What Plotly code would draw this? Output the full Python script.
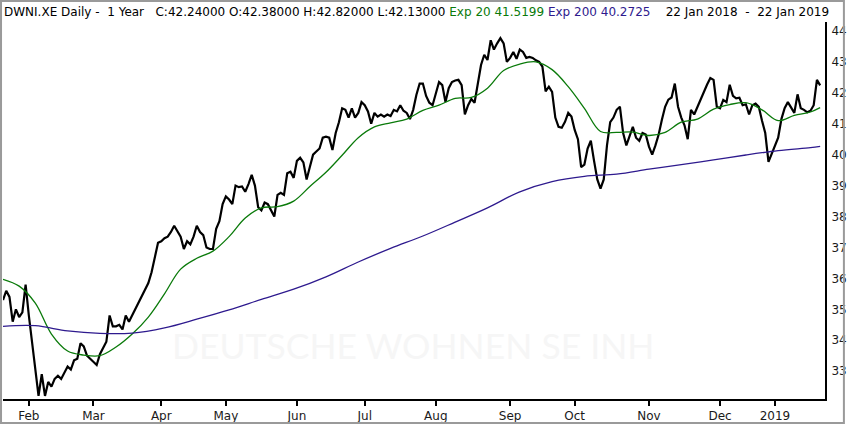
import pandas as pd
import plotly.graph_objects as go

# trading days (Xetra) from 22 Jan 2018 to 22 Jan 2019
start_date = "2018-01-22"
end_date = "2019-01-22"
holidays = ["2018-03-30", "2018-04-02", "2018-05-01", "2018-12-24",
            "2018-12-25", "2018-12-26", "2018-12-31", "2019-01-01"]

# daily closes
close = [
    35.3, 35.6, 35.4, 34.6, 35.0, 34.75, 34.9, 35.8, 34.8, 33.9,
    33.0, 32.2, 32.9, 32.2, 32.65, 32.5, 32.75, 32.85, 32.75, 32.95,
    33.15, 33.05, 33.35, 33.4, 33.9, 33.8, 33.5, 33.4, 33.3, 33.2,
    33.55, 33.75, 33.95, 34.8, 34.45, 34.45, 34.5, 34.35, 34.8, 34.6,
    34.8, 35.0, 35.2, 35.4, 35.65, 35.85, 36.2, 36.65, 37.15, 37.2,
    37.3, 37.35, 37.5, 37.7, 37.5, 37.35, 36.95, 37.2, 37.1, 37.35,
    37.7, 37.5, 37.4, 37.0, 36.95, 36.95, 37.6, 37.85, 38.4, 38.65,
    38.55, 38.4, 39.0, 38.95, 38.97, 38.8, 39.05, 39.35, 39.0, 38.3,
    38.2, 38.45, 38.4, 38.2, 38.0, 38.7, 38.77, 38.7, 39.4, 39.45,
    39.25, 39.8, 39.9, 39.75, 39.2, 39.6, 40.0, 40.1, 40.2, 40.55,
    40.58, 40.55, 40.15, 40.7, 41.05, 41.5, 41.45, 41.2, 41.5, 41.2,
    41.35, 41.7, 41.6, 41.4, 41.0, 41.35, 41.23, 41.3, 41.23, 41.3,
    41.25, 41.45, 41.4, 41.6, 41.42, 41.35, 41.15, 41.45, 41.94, 42.3,
    42.3, 41.9, 41.68, 41.6, 42.0, 42.35, 42.25, 41.7, 42.15, 42.35,
    42.4, 42.42, 42.25, 41.3, 41.6, 41.8, 41.68, 42.35, 42.9, 43.23,
    43.06, 43.7, 43.4, 43.6, 43.77, 43.6, 43.0, 43.13, 43.32, 43.1,
    43.4, 43.32, 43.13, 43.16, 43.13, 43.05, 43.0, 42.85, 42.05, 42.2,
    42.03, 41.2, 40.9, 40.87, 41.06, 41.35, 41.23, 40.8, 40.5, 39.6,
    39.68, 40.2, 40.45, 39.8, 39.2, 38.9, 39.2, 40.3, 41.05, 41.2,
    41.45, 41.55, 40.7, 40.3, 40.6, 40.9, 40.55, 40.45, 40.7, 40.65,
    40.26, 40.0, 40.3, 40.65, 41.13, 41.55, 41.78, 41.85, 42.3, 41.55,
    41.2, 40.95, 40.5, 41.45, 41.3, 41.55, 41.75, 42.0, 42.27, 42.48,
    42.42, 41.55, 41.5, 41.77, 41.7, 42.26, 41.9, 41.82, 41.84, 41.6,
    41.63, 41.3, 41.6, 41.65, 41.55, 41.1, 40.7, 39.77, 40.05, 40.3,
    40.55, 41.15, 41.5, 41.7, 41.5, 41.35, 41.95, 41.5, 41.45, 41.37,
    41.42, 41.6, 42.42, 42.24,
]

# Exp 20, read every 5 trading days (last point = last day)
ema20_idx = list(range(0, 251, 5)) + [253]
ema20 = [
    35.97, 35.75, 35.2, 34.2, 33.65, 33.52, 33.5, 33.78, 34.2, 34.75,
    35.5, 36.3, 36.65, 36.88, 37.35, 37.95, 38.28, 38.32, 38.5, 38.97,
    39.43, 39.98, 40.55, 40.9, 41.03, 41.15, 41.43, 41.6, 41.82, 41.85,
    42.15, 42.72, 42.93, 43.0, 42.75, 42.2, 41.5, 40.75, 40.72, 40.73,
    40.62, 40.72, 41.05, 41.15, 41.47, 41.62, 41.68, 41.45, 41.1, 41.27,
    41.38, 41.52,
]

# Exp 200, read every 10 trading days
ema200_idx = list(range(0, 251, 10)) + [253]
ema200 = [
    34.45, 34.47, 34.3, 34.22, 34.23, 34.4, 34.68, 34.98, 35.32, 35.65,
    36.05, 36.53, 36.97, 37.37, 37.82, 38.28, 38.8, 39.13, 39.3, 39.37,
    39.53, 39.68, 39.83, 39.99, 40.13, 40.23, 40.27,
]

month_labels = ["Feb", "Mar", "Apr", "May", "Jun", "Jul", "Aug",
                "Sep", "Oct", "Nov", "Dec", "2019"]

days = pd.bdate_range(start_date, end_date)
days = days[~days.isin(pd.to_datetime(holidays))]
dates = [d.strftime("%Y-%m-%d") for d in days]

# first trading day of each month (skip the partial January 2018)
firsts = pd.Series(dates, index=days).groupby([days.year, days.month]).first().tolist()[1:]

green = "#0a7a0a"
purple = "#2e1a8e"

fig = go.Figure()
fig.add_trace(go.Scatter(x=dates, y=close, mode="lines",
                         line=dict(color="black", width=2.2), name="DWNI.XE"))
fig.add_trace(go.Scatter(x=[dates[i] for i in ema20_idx], y=ema20, mode="lines",
                         line=dict(color=green, width=1.3, shape="spline"), name="Exp 20"))
fig.add_trace(go.Scatter(x=[dates[i] for i in ema200_idx], y=ema200, mode="lines",
                         line=dict(color=purple, width=1.3, shape="spline"), name="Exp 200"))

header = ("DWNI.XE Daily -  1 Year   C:42.24000 O:42.38000 H:42.82000 L:42.13000 "
          f"<span style='color:{green}'>Exp 20 41.5199</span> "
          f"<span style='color:{purple}'>Exp 200 40.2725</span>"
          "    22 Jan 2018  -  22 Jan 2019")

fig.add_annotation(text=header, xref="paper", yref="paper", x=-0.0012, y=1.027,
                   xanchor="left", yanchor="middle", showarrow=False,
                   font=dict(family="DejaVu Sans", size=12, color="black"))

fig.add_annotation(text="DEUTSCHE WOHNEN SE INH", xref="paper", yref="paper",
                   x=0.499, y=0.079, showarrow=False,
                   font=dict(family="Lato", size=35.5, color="#f6f6f6"))

# gray window frame
fig.add_shape(type="rect", xref="paper", yref="paper",
              x0=-0.0024, x1=1.0230, y0=-0.0635, y1=1.0555,
              line=dict(color="#9a9a9a", width=2))

fig.update_layout(
    width=850, height=426,
    margin=dict(l=3, r=21, t=22, b=26),
    paper_bgcolor="white", plot_bgcolor="white",
    showlegend=False,
    font=dict(family="DejaVu Sans", size=12, color="#1a1a1a"),
    xaxis=dict(type="category", categoryorder="array", categoryarray=dates,
               range=[0, 254.5], tickvals=firsts, ticktext=month_labels,
               showgrid=False, zeroline=False,
               showline=True, linecolor="black", linewidth=2,
               ticks="outside", ticklen=5, tickwidth=2, tickcolor="black"),
    yaxis=dict(side="right", range=[32.1, 44.29], tickvals=list(range(33, 45)),
               showgrid=False, zeroline=False,
               showline=True, linecolor="black", linewidth=2,
               ticks="", ticklabelstandoff=2),
)

# the page's default body margin would shift the chart; remove it
fig.write_html("out.html", config={"displayModeBar": False},
               post_script="document.body.style.margin='0';")
